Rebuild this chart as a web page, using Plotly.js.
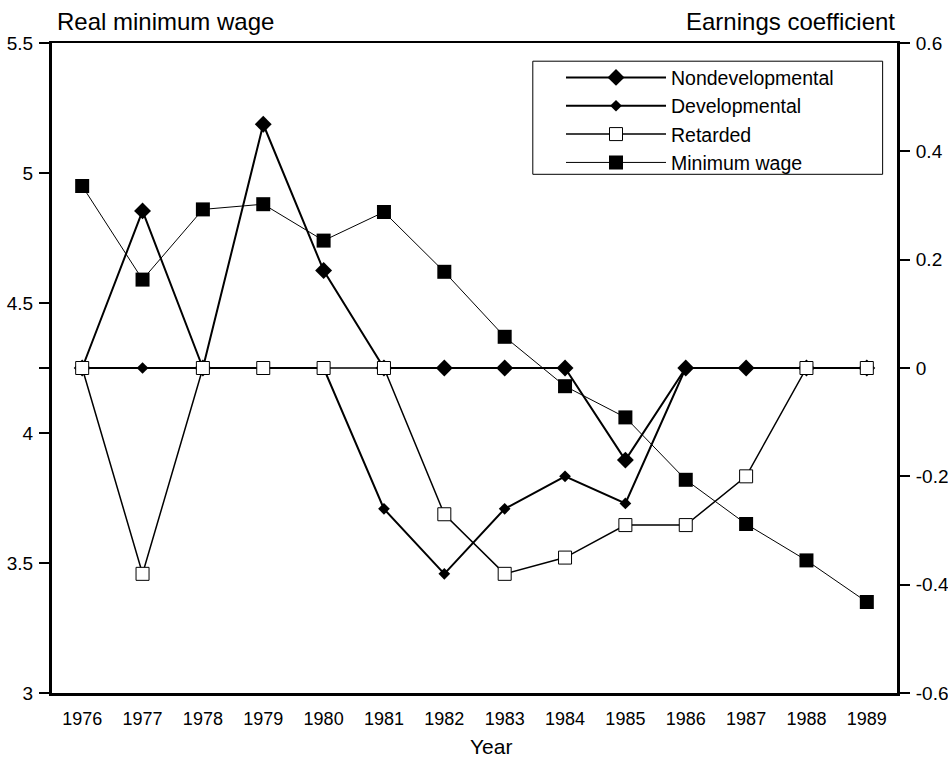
<!DOCTYPE html>
<html>
<head>
<meta charset="utf-8">
<script src="https://cdn.plot.ly/plotly-3.0.1.min.js"></script>
<style>
  html, body { margin: 0; padding: 0; background: #fff; }
  #chart { width: 948px; height: 763px; }
</style>
</head>
<body>
<div id="chart"></div>
<script>
// values
var years = [1976, 1977, 1978, 1979, 1980, 1981, 1982, 1983, 1984, 1985, 1986, 1987, 1988, 1989];
var minWage = [4.95, 4.59, 4.86, 4.88, 4.74, 4.85, 4.62, 4.37, 4.18, 4.06, 3.82, 3.65, 3.51, 3.35];
var nondev = [0, 0.29, 0, 0.45, 0.18, 0, 0, 0, 0, -0.17, 0, 0, 0, 0];
var dev = [0, 0, 0, 0, 0, -0.26, -0.38, -0.26, -0.20, -0.25, 0, 0, 0, 0];
var retarded = [0, -0.38, 0, 0, 0, 0, -0.27, -0.38, -0.35, -0.29, -0.29, -0.20, 0, 0];

var leftRange = [3, 5.5];
var rightRange = [-0.6, 0.6];
var leftTicks = [3, 3.5, 4, 4.25, 4.5, 5, 5.5];
var leftTickText = ['3', '3.5', '4', '', '4.5', '5', '5.5'];
var rightTicks = [-0.6, -0.4, -0.2, 0, 0.2, 0.4, 0.6];
var rightTickText = ['-0.6', '-0.4', '-0.2', '0', '0.2', '0.4', '0.6'];

var FONT = '"Liberation Sans", Arial, sans-serif';
var W = 948, H = 763;
var M = { l: 52, r: 51, t: 43, b: 70 };
var plotW = W - M.l - M.r;

var trace1 = {
  x: years, y: nondev, yaxis: 'y2', name: 'Nondevelopmental',
  mode: 'lines+markers', type: 'scatter',
  line: { color: '#000', width: 2 },
  marker: { symbol: 'diamond', size: 13, color: '#000' }
};
var trace2 = {
  x: years, y: dev, yaxis: 'y2', name: 'Developmental',
  mode: 'lines+markers', type: 'scatter',
  line: { color: '#000', width: 2 },
  marker: { symbol: 'diamond', size: 9, color: '#000' }
};
var trace3 = {
  x: years, y: retarded, yaxis: 'y2', name: 'Retarded',
  mode: 'lines+markers', type: 'scatter',
  line: { color: '#000', width: 1.5 },
  marker: { symbol: 'square', size: 13, color: '#fff', line: { color: '#000', width: 1 } }
};
var trace4 = {
  x: years, y: minWage, yaxis: 'y', name: 'Minimum wage',
  mode: 'lines+markers', type: 'scatter',
  line: { color: '#000', width: 1 },
  marker: { symbol: 'square', size: 14, color: '#000' }
};

var data = [trace1, trace2, trace3, trace4];

var layout = {
  width: W, height: H,
  margin: M,
  paper_bgcolor: '#fff', plot_bgcolor: '#fff',
  font: { family: FONT, color: '#000', size: 18 },
  showlegend: true,
  legend: {
    x: (561 - M.l) / plotW, y: 0.9766, xanchor: 'left', yanchor: 'top',
    bgcolor: 'rgba(0,0,0,0)', borderwidth: 0,
    itemwidth: 100,
    font: { family: FONT, size: 19.5, color: '#000' }
  },
  xaxis: {
    range: [1975.5, 1989.5], tickmode: 'array', tickvals: years,
    ticks: '', showgrid: false, zeroline: false,
    showline: true, mirror: true, linecolor: '#000', linewidth: 2.5,
    tickfont: { size: 18 }, ticklabelstandoff: 8
  },
  yaxis: {
    range: leftRange, tickmode: 'array', tickvals: leftTicks, ticktext: leftTickText,
    ticks: 'outside', ticklen: 10, tickwidth: 2, tickcolor: '#000',
    showgrid: false, zeroline: false,
    showline: true, linecolor: '#000', linewidth: 3,
    tickfont: { size: 19 }, ticklabelstandoff: 2
  },
  yaxis2: {
    overlaying: 'y', side: 'right',
    range: rightRange, tickmode: 'array', tickvals: rightTicks, ticktext: rightTickText,
    ticks: 'outside', ticklen: 10, tickwidth: 2, tickcolor: '#000',
    showgrid: false, zeroline: false,
    showline: true, linecolor: '#000', linewidth: 3,
    tickfont: { size: 19 }, ticklabelstandoff: 2
  },
  shapes: [
    // legend frame
    { type: 'rect', xref: 'paper', yref: 'paper', x0: 0.569, x1: 0.983, y0: 0.798, y1: 0.972,
      line: { color: '#000', width: 1 }, fillcolor: 'rgba(0,0,0,0)', layer: 'above' }
  ],
  annotations: [
    { text: 'Real minimum wage', xref: 'paper', yref: 'paper', x: 0.004, y: 1, xanchor: 'left', yanchor: 'bottom',
      yshift: 6, showarrow: false, font: { size: 24 } },
    { text: 'Earnings coefficient', xref: 'paper', yref: 'paper', x: 1.0, y: 1, xanchor: 'right', yanchor: 'bottom',
      yshift: 6, showarrow: false, font: { size: 24 } },
    { text: 'Year', xref: 'paper', yref: 'paper', x: 0.52, y: 0, xanchor: 'center', yanchor: 'middle',
      yshift: -53, showarrow: false, font: { size: 21 } }
  ]
};

Plotly.newPlot('chart', data, layout, { displayModeBar: false, staticPlot: true });
</script>
</body>
</html>
